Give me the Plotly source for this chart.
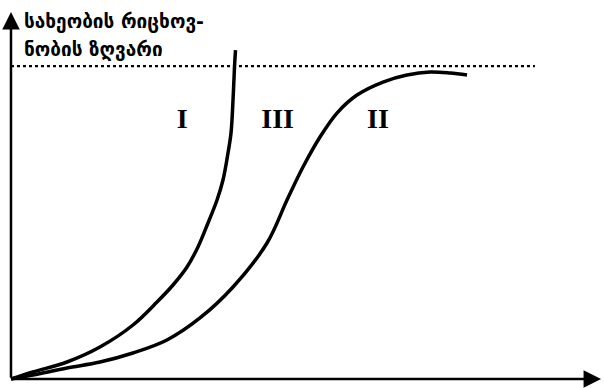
import plotly.graph_objects as go

# Curve I (exponential growth), time vs. population (K = 100)
t_I = [0, 0.373, 0.949, 1.508, 2.068, 2.475, 2.746, 2.983, 3.169, 3.339,
       3.492, 3.593, 3.678, 3.729, 3.763, 3.788, 3.805]
n_I = [0, 2.24, 5.43, 10.22, 17.25, 24.60, 30.03, 35.78, 42.17, 49.84,
       57.19, 63.58, 72.20, 78.59, 89.14, 99.68, 105.11]

# Curve II (logistic growth)
t_II = [0, 0.373, 0.949, 1.508, 2.068, 2.644, 3.203, 3.763, 4.339, 4.678,
        4.949, 5.237, 5.525, 5.864, 6.305, 6.712, 7.102, 7.441, 7.729]
n_II = [0, 1.28, 3.51, 5.43, 8.31, 12.46, 19.49, 29.39, 43.45, 57.19,
        67.73, 77.32, 84.98, 90.73, 94.89, 97.12, 98.08, 97.76, 97.12]

# Carrying capacity line
K = 100
t_K = [0, 8.88]

# Region labels
label_text = ["I", "III", "II"]
label_t = [2.90, 4.52, 6.22]
label_n = [82.5, 82.5, 82.5]

title_lines = ["სახეობის რიცხოვ-", "ნობის ზღვარი"]

fig = go.Figure()
fig.add_trace(go.Scatter(x=t_K, y=[K, K], mode="lines",
                         line=dict(color="black", width=2.2, dash="3px,3px"),
                         hoverinfo="skip"))
fig.add_trace(go.Scatter(x=t_I, y=n_I, mode="lines",
                         line=dict(color="black", width=3.5, shape="spline", smoothing=1)))
fig.add_trace(go.Scatter(x=t_II, y=n_II, mode="lines",
                         line=dict(color="black", width=3.5, shape="spline", smoothing=1)))
fig.add_trace(go.Scatter(x=label_t, y=label_n, mode="text", text=label_text,
                         textfont=dict(family="Liberation Serif", size=28, color="black",
                                       weight="bold")))

# Axes with arrows
fig.add_annotation(x=10.0, y=0, ax=0, ay=0, xref="x", yref="y", axref="x", ayref="y",
                   showarrow=True, arrowhead=2, arrowsize=1.4, arrowwidth=2.5,
                   arrowcolor="black", text="")
fig.add_annotation(x=0, y=117.3, ax=0, ay=0, xref="x", yref="y", axref="x", ayref="y",
                   showarrow=True, arrowhead=2, arrowsize=1.4, arrowwidth=2.5,
                   arrowcolor="black", text="")

fig.add_annotation(x=22 / 604, y=1 - 21 / 388, xref="paper", yref="paper",
                   xanchor="left", yanchor="middle", showarrow=False,
                   text=title_lines[0],
                   font=dict(family="DejaVu Sans", size=19, color="black", weight="bold"))
fig.add_annotation(x=22 / 604, y=1 - 50 / 388, xref="paper", yref="paper",
                   xanchor="left", yanchor="middle", showarrow=False,
                   text=title_lines[1],
                   font=dict(family="DejaVu Sans", size=19, color="black", weight="bold"))

fig.update_layout(
    width=604, height=388,
    margin=dict(l=0, r=0, t=0, b=0),
    paper_bgcolor="white", plot_bgcolor="white",
    showlegend=False,
    hovermode=False,
    xaxis=dict(range=[-0.186, 10.05], visible=False, fixedrange=True),
    yaxis=dict(range=[-2.88, 121.1], visible=False, fixedrange=True),
)

fig.write_html("out.html", config={"displayModeBar": False, "staticPlot": True},
               post_script="document.body.style.margin='0';")
